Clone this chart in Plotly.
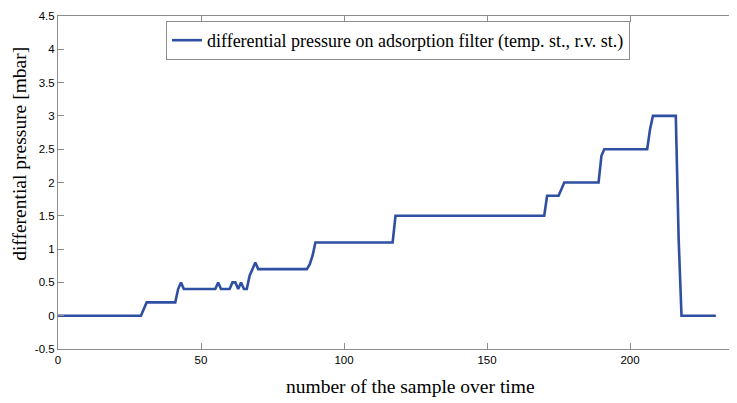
import plotly.graph_objects as go

# sample index (breakpoints of the recorded curve) and differential pressure [mbar]
sample = [0, 29, 30, 31, 41, 42, 43, 44, 55, 56, 57, 60, 61, 62, 63, 64, 65, 66, 67, 68, 69, 70,
          87, 88, 89, 90, 117, 118, 170, 171, 175, 176, 177, 189, 190, 191, 206, 207, 208,
          216, 217, 218, 230]
pressure = [0, 0, 0.1, 0.2, 0.2, 0.4, 0.5, 0.4, 0.4, 0.5, 0.4, 0.4, 0.5, 0.5, 0.4, 0.5, 0.4, 0.4, 0.6, 0.7, 0.8, 0.7,
            0.7, 0.77, 0.9, 1.1, 1.1, 1.5, 1.5, 1.8, 1.8, 1.9, 2.0, 2.0, 2.4, 2.5, 2.5, 2.8, 3.0,
            3.0, 1.15, 0, 0]

x_ticks = [0, 50, 100, 150, 200]
y_ticks = [-0.5, 0, 0.5, 1, 1.5, 2, 2.5, 3, 3.5, 4, 4.5]
y_tick_labels = ["-0.5", "0", "0.5", "1", "1.5", "2", "2.5", "3", "3.5", "4", "4.5"]

series_name = "differential pressure on adsorption filter (temp. st., r.v. st.)"
x_title = "number of the sample over time"
y_title = "differential pressure [mbar]"

fig = go.Figure()
fig.add_trace(go.Scatter(
    x=sample, y=pressure, mode="lines", name=series_name,
    line=dict(color="#2f4fa2", width=2.6),
))

axis_color = "#8c8c8c"
tick_font = dict(family="Liberation Sans", size=11.5, color="black")
title_font = dict(family="Liberation Serif", size=19.5, color="black")

# the page body adds an 8px offset, so the figure is 8px smaller than the window
fig.update_layout(
    width=729, height=395,
    margin=dict(l=50, r=0, t=8, b=54, autoexpand=False),
    paper_bgcolor="white", plot_bgcolor="white",
    showlegend=True,
    legend=dict(
        x=0.159, y=0.985, xanchor="left", yanchor="top",
        bgcolor="white", bordercolor="#8c8c8c", borderwidth=1,
        font=dict(family="Liberation Serif", size=18, color="black"),
        itemwidth=30, tracegroupgap=0,
    ),
    xaxis=dict(
        range=[0, 237.4], tickvals=x_ticks, automargin=False,
        showline=True, linecolor=axis_color, linewidth=1, mirror="ticks",
        ticks="inside", ticklen=6, tickcolor=axis_color,
        showgrid=False, zeroline=False, tickfont=tick_font,
    ),
    yaxis=dict(
        range=[-0.5, 4.5], tickvals=y_ticks, ticktext=y_tick_labels, automargin=False,
        showline=True, linecolor=axis_color, linewidth=1, mirror=False,
        ticks="inside", ticklen=6, tickcolor=axis_color,
        showgrid=False, zeroline=False, tickfont=tick_font,
    ),
    annotations=[
        dict(text=x_title, xref="paper", yref="paper", x=0.519, y=-0.114,
             xanchor="center", yanchor="middle", showarrow=False, font=title_font),
        dict(text=y_title, xref="paper", yref="paper", x=-0.056, y=0.586,
             xanchor="center", yanchor="middle", textangle=-90, showarrow=False, font=title_font),
    ],
)

fig.write_html("out.html")
